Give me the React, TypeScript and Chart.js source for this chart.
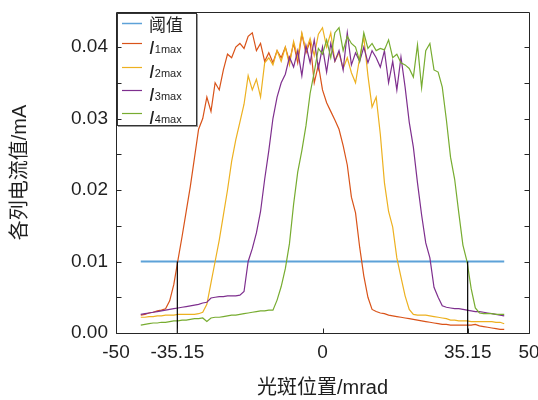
import React, { useEffect, useRef } from 'react';
import { Chart, registerables } from 'chart.js';

Chart.register(...registerables);

// ---- data ----
const X_POS = [
  -44, -43, -42, -41, -40, -39, -38, -37, -36,
  -35, -34, -33, -32, -31, -30, -29, -28, -27, -26,
  -25, -24, -23, -22, -21, -20, -19, -18, -17, -16,
  -15, -14, -13, -12, -11, -10, -9, -8, -7, -6,
  -5, -4, -3, -2, -1, 0, 1, 2, 3, 4,
  5, 6, 7, 8, 9, 10, 11, 12, 13, 14,
  15, 16, 17, 18, 19, 20, 21, 22, 23, 24,
  25, 26, 27, 28, 29, 30, 31, 32, 33, 34,
  35, 36, 37, 38, 39, 40, 41, 42, 43, 44,
];

const I1 = [
  0.0025, 0.0026, 0.0028, 0.0029, 0.0031, 0.0032, 0.0034, 0.0045, 0.0068,
  0.0102, 0.0135, 0.0170, 0.0205, 0.0245, 0.0285, 0.0300, 0.0330, 0.0310, 0.0350,
  0.0340, 0.0368, 0.0390, 0.0385, 0.0400, 0.0405, 0.0398, 0.0415, 0.0420, 0.0395,
  0.0405, 0.0380, 0.0392, 0.0378, 0.0395, 0.0385, 0.0400, 0.0380, 0.0405, 0.0378,
  0.0418, 0.0392, 0.0408, 0.0350, 0.0375, 0.0340, 0.0322, 0.0310, 0.0298, 0.0285,
  0.0262, 0.0235, 0.0190, 0.0168, 0.0120, 0.0080, 0.0050, 0.0033, 0.0030, 0.0028,
  0.0027, 0.0025, 0.0024, 0.0023, 0.0022, 0.0021, 0.0020, 0.0019, 0.0018, 0.0017,
  0.0016, 0.0015, 0.0014, 0.0013, 0.0012, 0.0012, 0.0011, 0.0011, 0.0011, 0.0011,
  0.0011, 0.0011, 0.0012, 0.0010, 0.0009, 0.0008, 0.0007, 0.0006, 0.0005, 0.0005,
];

const I2 = [
  0.0022, 0.0022, 0.0023, 0.0023, 0.0024, 0.0024, 0.0025, 0.0025, 0.0025,
  0.0026, 0.0026, 0.0026, 0.0026, 0.0026, 0.0027, 0.0029, 0.0040, 0.0070, 0.0100,
  0.0130, 0.0165, 0.0200, 0.0240, 0.0270, 0.0295, 0.0320, 0.0360, 0.0340, 0.0355,
  0.0330, 0.0378, 0.0385, 0.0375, 0.0395, 0.0380, 0.0400, 0.0375, 0.0408, 0.0385,
  0.0420, 0.0395, 0.0412, 0.0388, 0.0418, 0.0427, 0.0400, 0.0420, 0.0380, 0.0392,
  0.0370, 0.0385, 0.0364, 0.0350, 0.0385, 0.0414, 0.0360, 0.0316, 0.0330, 0.0278,
  0.0210, 0.0170, 0.0148, 0.0105, 0.0078, 0.0052, 0.0033, 0.0026, 0.0025, 0.0025,
  0.0025, 0.0024, 0.0023, 0.0022, 0.0021, 0.0020, 0.0018, 0.0018, 0.0017, 0.0017,
  0.0017, 0.0016, 0.0016, 0.0016, 0.0016, 0.0016, 0.0016, 0.0015, 0.0015, 0.0013,
];

const I3 = [
  0.0026, 0.0027, 0.0028, 0.0029, 0.0030, 0.0031, 0.0032, 0.0033, 0.0034,
  0.0035, 0.0036, 0.0037, 0.0038, 0.0039, 0.0040, 0.0042, 0.0043, 0.0049, 0.0050,
  0.0051, 0.0051, 0.0052, 0.0052, 0.0052, 0.0053, 0.0058, 0.0100, 0.0118, 0.0140,
  0.0170, 0.0215, 0.0255, 0.0300, 0.0330, 0.0350, 0.0362, 0.0386, 0.0372, 0.0395,
  0.0360, 0.0402, 0.0378, 0.0410, 0.0370, 0.0400, 0.0365, 0.0405, 0.0380, 0.0395,
  0.0368, 0.0420, 0.0375, 0.0392, 0.0380, 0.0400, 0.0378, 0.0395, 0.0385, 0.0372,
  0.0395, 0.0350, 0.0380, 0.0340, 0.0386, 0.0344, 0.0295, 0.0260, 0.0210, 0.0165,
  0.0126, 0.0105, 0.0064, 0.0050, 0.0038, 0.0036, 0.0035, 0.0034, 0.0034, 0.0033,
  0.0032, 0.0031, 0.0030, 0.0030, 0.0029, 0.0028, 0.0027, 0.0026, 0.0025, 0.0024,
];

const I4 = [
  0.0011, 0.0012, 0.0013, 0.0014, 0.0014, 0.0015, 0.0015, 0.0016, 0.0017,
  0.0017, 0.0018, 0.0018, 0.0019, 0.0020, 0.0020, 0.0021, 0.0016, 0.0021, 0.0022,
  0.0022, 0.0023, 0.0024, 0.0025, 0.0025, 0.0026, 0.0027, 0.0028, 0.0029, 0.0030,
  0.0031, 0.0031, 0.0032, 0.0032, 0.0046, 0.0065, 0.0090, 0.0125, 0.0180, 0.0225,
  0.0255, 0.0290, 0.0335, 0.0365, 0.0398, 0.0390, 0.0410, 0.0385, 0.0420, 0.0427,
  0.0395, 0.0415, 0.0405, 0.0400, 0.0380, 0.0420, 0.0398, 0.0405, 0.0395, 0.0398,
  0.0396, 0.0410, 0.0385, 0.0390, 0.0378, 0.0375, 0.0370, 0.0358, 0.0403, 0.0343,
  0.0395, 0.0405, 0.0368, 0.0365, 0.0344, 0.0298, 0.0246, 0.0215, 0.0168, 0.0123,
  0.0100, 0.0062, 0.0035, 0.0028, 0.0027, 0.0027, 0.0027, 0.0026, 0.0026, 0.0026,
];

const THRESHOLD_X = [-44, 44];
const THRESHOLD_Y = [0.01, 0.01];
const MARK_X = [-35.15, 35.15];
const MARK_Y = [0, 0.01];

const X_TICK_VALUES = [-50, -35.15, 0, 35.15, 50];
const X_TICK_LABELS = ['-50', '-35.15', '0', '35.15', '50'];
const Y_TICK_MARKS = [0, 0.005, 0.01, 0.015, 0.02, 0.025, 0.03, 0.035, 0.04];
const Y_LABEL_VALUES = [0, 0.01, 0.02, 0.03, 0.04];
const Y_LABELS = ['0.00', '0.01', '0.02', '0.03', '0.04'];

const SERIES_NAMES = ['阈值', 'I1max', 'I2max', 'I3max', 'I4max'];
const LEGEND_MAIN = ['阈值', 'I', 'I', 'I', 'I'];
const LEGEND_SUB = ['', '1max', '2max', '3max', '4max'];
const COLORS = ['#5DA2D8', '#D95319', '#EDB120', '#7E2F8E', '#77AC30'];

const X_TITLE = '光斑位置/mrad';
const Y_TITLE = '各列电流值/mA';

const toPts = (xs: number[], ys: number[]) => xs.map((x, i) => ({ x, y: ys[i] }));

const TEXT = '#1f1f1f';
const LATIN = '"Liberation Sans", Arial, sans-serif';
const CJK = '"Liberation Sans", "Noto Sans CJK SC", sans-serif';

const framePlugin = {
  id: 'frameLegend',
  afterDatasetsDraw(chart: any) {
    const { ctx, chartArea: a, scales } = chart;
    const ys = scales.y;
    const xs = scales.x;
    ctx.save();

    // legend box
    const lx = Math.round(a.left) + 1;
    const ly = Math.round(a.top) + 1;
    const lw = 80;
    const lh = 113;
    ctx.fillStyle = '#ffffff';
    ctx.fillRect(lx, ly, lw, lh);
    ctx.strokeStyle = '#9a9a9a';
    ctx.lineWidth = 2;
    ctx.beginPath();
    ctx.moveTo(lx + 1, ly + lh);
    ctx.lineTo(lx + lw, ly + lh);
    ctx.lineTo(lx + lw, ly + 1);
    ctx.stroke();
    ctx.strokeStyle = '#333333';
    ctx.lineWidth = 1;
    ctx.strokeRect(lx + 0.5, ly + 0.5, lw - 1, lh - 1);

    const rowOffsets = [10, 30, 54, 77, 100];
    for (let i = 0; i < SERIES_NAMES.length; i++) {
      const cy = ly + rowOffsets[i] + 0.5;
      ctx.strokeStyle = COLORS[i];
      ctx.lineWidth = i === 0 ? 1.5 : 1.2;
      ctx.beginPath();
      ctx.moveTo(lx + 5, cy);
      ctx.lineTo(lx + 25, cy);
      ctx.stroke();
      ctx.fillStyle = TEXT;
      const tx = lx + 32;
      if (LEGEND_SUB[i] === '') {
        ctx.font = '17px "Noto Sans CJK SC", sans-serif';
        ctx.textBaseline = 'middle';
        ctx.textAlign = 'left';
        ctx.fillText(LEGEND_MAIN[i], tx, cy + 1);
      } else {
        ctx.textBaseline = 'alphabetic';
        ctx.textAlign = 'left';
        ctx.font = 'italic 19px ' + LATIN;
        ctx.fillText(LEGEND_MAIN[i], tx, cy + 10);
        const w = ctx.measureText(LEGEND_MAIN[i]).width;
        ctx.font = '11px ' + LATIN;
        ctx.fillText(LEGEND_SUB[i], tx + w + 0.5, cy + 9.5);
      }
    }

    // frame
    const L = Math.round(a.left) + 0.5;
    const R = Math.round(a.right) + 0.5;
    const T = Math.round(a.top) + 0.5;
    const B = Math.round(a.bottom) + 0.5;
    ctx.strokeStyle = '#262626';
    ctx.lineWidth = 1;
    ctx.beginPath();
    ctx.moveTo(L, T);
    ctx.lineTo(R, T);
    ctx.lineTo(R, B);
    ctx.lineTo(L, B);
    ctx.closePath();
    ctx.stroke();

    // inward ticks
    ctx.beginPath();
    for (const v of Y_TICK_MARKS) {
      const py = Math.round(ys.getPixelForValue(v)) + 0.5;
      ctx.moveTo(L, py);
      ctx.lineTo(L + 5, py);
      ctx.moveTo(R, py);
      ctx.lineTo(R - 5, py);
    }
    for (const v of X_TICK_VALUES) {
      const px = Math.round(xs.getPixelForValue(v)) + 0.5;
      ctx.moveTo(px, B);
      ctx.lineTo(px, B - 5);
    }
    ctx.stroke();
    ctx.restore();
  },
};

export default function App() {
  const ref = useRef<HTMLCanvasElement | null>(null);

  useEffect(() => {
    if (!ref.current) return;
    const lineDs = (label: string, data: any[], color: string, width: number, order: number) => ({
      label,
      data,
      borderColor: color,
      backgroundColor: color,
      borderWidth: width,
      pointRadius: 0,
      pointHoverRadius: 0,
      tension: 0,
      fill: false,
      order,
    });

    const chart = new Chart(ref.current, {
      type: 'line',
      data: {
        datasets: [
          lineDs(SERIES_NAMES[0], toPts(THRESHOLD_X, THRESHOLD_Y), COLORS[0], 2, 5),
          lineDs(SERIES_NAMES[1], toPts(X_POS, I1), COLORS[1], 1.2, 4),
          lineDs(SERIES_NAMES[2], toPts(X_POS, I2), COLORS[2], 1.2, 3),
          lineDs(SERIES_NAMES[3], toPts(X_POS, I3), COLORS[3], 1.2, 2),
          lineDs(SERIES_NAMES[4], toPts(X_POS, I4), COLORS[4], 1.2, 1),
          lineDs('mark-left', toPts([MARK_X[0], MARK_X[0]], MARK_Y), '#000000', 1.2, 0),
          lineDs('mark-right', toPts([MARK_X[1], MARK_X[1]], MARK_Y), '#000000', 1.2, 0),
        ],
      },
      options: {
        animation: false,
        responsive: false,
        maintainAspectRatio: false,
        devicePixelRatio: 1,
        events: [],
        layout: { padding: { left: 0, right: 9, top: 12, bottom: 0 } },
        plugins: {
          legend: { display: false },
          tooltip: { enabled: false },
          title: { display: false },
        },
        scales: {
          x: {
            type: 'linear',
            min: -50,
            max: 50,
            grid: { display: false, drawTicks: false },
            border: { display: false },
            afterBuildTicks: (axis: any) => {
              axis.ticks = X_TICK_VALUES.map((v) => ({ value: v }));
            },
            afterFit: (axis: any) => {
              axis.height = 67;
              axis.paddingLeft = 0;
              axis.paddingRight = 0;
            },
            ticks: {
              autoSkip: false,
              maxRotation: 0,
              minRotation: 0,
              padding: 8,
              color: TEXT,
              font: { family: LATIN, size: 19 },
              callback: (v: any) => {
                const idx = X_TICK_VALUES.findIndex((t) => Math.abs(t - Number(v)) < 1e-6);
                return idx >= 0 ? X_TICK_LABELS[idx] : '';
              },
            },
            title: {
              display: true,
              text: X_TITLE,
              color: TEXT,
              font: { family: CJK, size: 20 },
              padding: { top: 0, bottom: 0 },
            },
          },
          y: {
            type: 'linear',
            min: 0,
            max: 0.0449,
            grid: { display: false, drawTicks: false },
            border: { display: false },
            afterBuildTicks: (axis: any) => {
              axis.ticks = Y_LABEL_VALUES.map((v) => ({ value: v }));
            },
            afterFit: (axis: any) => {
              axis.width = 116;
              axis.paddingTop = 0;
              axis.paddingBottom = 0;
            },
            ticks: {
              padding: 8,
              color: TEXT,
              font: { family: LATIN, size: 19 },
              callback: (v: any) => {
                const idx = Y_LABEL_VALUES.findIndex((t) => Math.abs(t - Number(v)) < 1e-9);
                return idx >= 0 ? Y_LABELS[idx] : '';
              },
            },
            title: {
              display: true,
              text: Y_TITLE,
              color: TEXT,
              font: { family: CJK, size: 20 },
              padding: { top: 8, bottom: 0 },
            },
          },
        },
      },
      plugins: [framePlugin],
    } as any);

    return () => chart.destroy();
  }, []);

  return (
    <div style={{ position: 'fixed', left: 0, top: 0, width: 538, height: 400, background: '#fff' }}>
      <canvas ref={ref} width={538} height={400} style={{ display: 'block' }} />
    </div>
  );
}
